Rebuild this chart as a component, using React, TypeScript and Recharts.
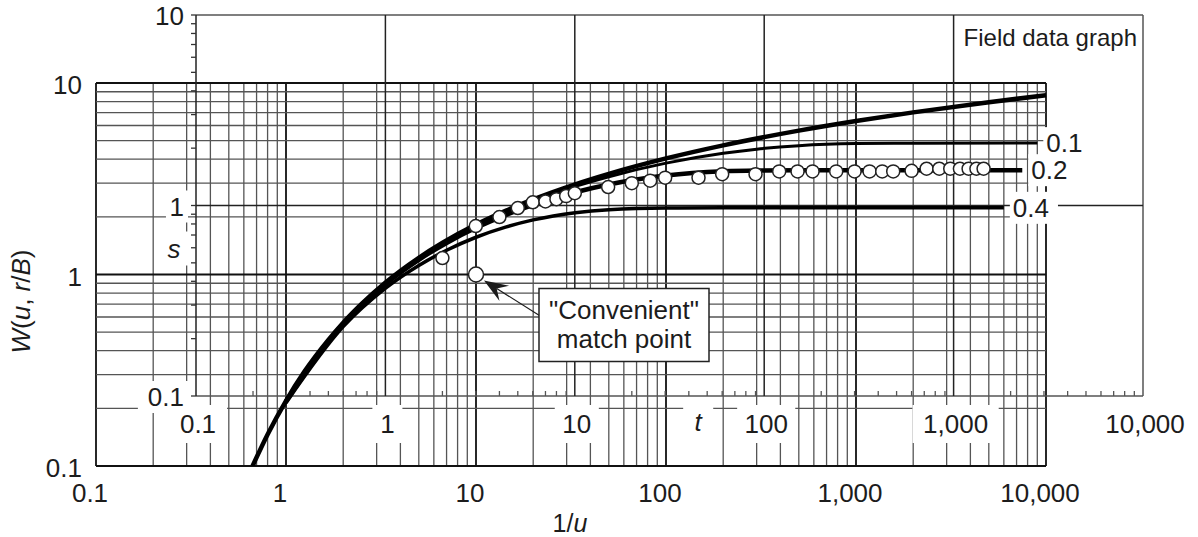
import React from 'react'
import { ComposedChart, XAxis, YAxis, Line, Scatter, ReferenceLine, ReferenceDot } from 'recharts'

// Type curves: W(u, r/B) against 1/u (Theis curve plus leaky r/B curves)
const theisInvU = [0.667, 0.8, 1, 1.25, 1.667, 2, 2.5, 3.33, 5, 6.67, 10, 14.3, 20, 33.3, 50, 100, 200, 500, 1000, 2000, 5000, 10000]
const theisW = [0.1, 0.146, 0.219, 0.311, 0.454, 0.56, 0.702, 0.906, 1.223, 1.465, 1.823, 2.151, 2.468, 2.959, 3.355, 4.038, 4.726, 5.639, 6.332, 7.024, 7.94, 8.633]

const rb01InvU = [1, 2, 3.33, 5, 7, 10, 14.3, 20, 33.3, 50, 100, 200, 300, 500, 1000, 2000, 9000]
const rb01W = [0.219, 0.558, 0.902, 1.216, 1.495, 1.805, 2.123, 2.427, 2.887, 3.242, 3.815, 4.296, 4.514, 4.708, 4.829, 4.853, 4.854]

const rb02InvU = [1, 2, 3.33, 5, 7, 10, 14.3, 20, 33.3, 50, 100, 200, 300, 500, 7500]
const rb02W = [0.218, 0.553, 0.89, 1.194, 1.462, 1.753, 2.043, 2.311, 2.69, 2.952, 3.287, 3.457, 3.492, 3.504, 3.505]

const rb04InvU = [1, 2, 3.33, 5, 7, 10, 14.3, 20, 33.3, 50, 100, 200, 6000]
const rb04W = [0.2135, 0.534, 0.846, 1.115, 1.338, 1.565, 1.767, 1.928, 2.103, 2.181, 2.225, 2.229, 2.229]

const curveLabels = ['0.1', '0.2', '0.4']

// Field data: time t against drawdown s
const fieldT = [2, 3, 4, 5, 6, 7, 8, 9, 10, 15, 20, 25, 30, 45, 60, 90, 120, 150, 180, 240, 300, 360, 420, 480, 600, 720, 840, 960, 1080, 1200, 1320, 1440]
const fieldS = [0.53, 0.78, 0.87, 0.97, 1.04, 1.05, 1.08, 1.12, 1.16, 1.25, 1.31, 1.35, 1.4, 1.4, 1.46, 1.46, 1.51, 1.51, 1.51, 1.51, 1.51, 1.51, 1.51, 1.51, 1.52, 1.56, 1.56, 1.56, 1.56, 1.56, 1.56, 1.56]

// match point on the type-curve sheet
const matchInvU = 10
const matchW = 1

const xTicks = [0.1, 1, 10, 100, 1000, 10000]
const xTickLabels = ['0.1', '1', '10', '100', '1,000', '10,000']
const yTicks = [0.1, 1, 10]
const yTickLabels = ['0.1', '1', '10']

// pixel frames of the two sheets inside the 1198 x 537 chart
const TYPE_BOX = { left: 96, right: 1046, top: 83, bottom: 466 }
const FIELD_BOX = { left: 196, right: 1143, top: 15, bottom: 396 }
const PLOT = { left: 96, right: 1143, top: 15, bottom: 466 }

const FONT = '"Liberation Sans", Arial, Helvetica, sans-serif'
const INK = '#1c1c1c'
const TICK_SIZE = 26

// log domain that puts lo at pixel pLo and hi at pixel pHi, read back at pixels aLo / aHi
function stretch(lo: number, hi: number, pLo: number, pHi: number, aLo: number, aHi: number): [number, number] {
  const k = (Math.log10(hi) - Math.log10(lo)) / (pHi - pLo)
  return [10 ** (Math.log10(lo) + (aLo - pLo) * k), 10 ** (Math.log10(lo) + (aHi - pLo) * k)]
}

const typeXDomain = stretch(0.1, 10000, TYPE_BOX.left, TYPE_BOX.right, PLOT.left, PLOT.right)
const typeYDomain = stretch(0.1, 10, TYPE_BOX.bottom, TYPE_BOX.top, PLOT.bottom, PLOT.top)
const fieldXDomain = stretch(0.1, 10000, FIELD_BOX.left, FIELD_BOX.right, PLOT.left, PLOT.right)
const fieldYDomain = stretch(0.1, 10, FIELD_BOX.bottom, FIELD_BOX.top, PLOT.bottom, PLOT.top)

// 1..9 steps in every decade between from and to
function decadeSteps(from: number, to: number) {
  const out: number[] = []
  for (let d = from; d < to * 0.999; d *= 10) {
    for (let m = 1; m < 10; m++) out.push(Number((d * m).toPrecision(3)))
  }
  out.push(to)
  return out
}
const isDecade = (v: number) => Math.abs(Math.log10(v) - Math.round(Math.log10(v))) < 1e-6

const zip = (xs: number[], ys: number[]) => xs.map((x, i) => ({ x, y: ys[i] }))

const theis = zip(theisInvU, theisW)
const rbCurves = [zip(rb01InvU, rb01W), zip(rb02InvU, rb02W), zip(rb04InvU, rb04W)]
const rbWidths = [3, 4.5, 3.5]
const field = zip(fieldT, fieldS)

const typeGridX = decadeSteps(0.1, 10000)
const typeGridY = decadeSteps(0.1, 10)
const fieldTicksX = decadeSteps(0.1, 10000).filter((v) => !isDecade(v))
const fieldTicksY = decadeSteps(0.1, 10)

type TextOpts = {
  dx?: number
  dy?: number
  anchor?: 'start' | 'middle' | 'end'
  size?: number
  italic?: boolean
  box?: boolean
  padX?: number
  padY?: number
}

// text drawn at a reference point, optionally on a white patch that hides the grid behind it
function textAt(text: string, o: TextOpts = {}) {
  const { dx = 0, dy = 0, anchor = 'middle', size = TICK_SIZE, italic = false, box = false, padX = 6, padY = 5 } = o
  return (p: any) => {
    const x = p.cx + dx
    const y = p.cy + dy
    const w = text.length * size * 0.54
    const left = anchor === 'middle' ? x - w / 2 : anchor === 'end' ? x - w : x
    return (
      <g>
        {box && (
          <rect x={left - padX} y={y - size / 2 - padY} width={w + padX * 2} height={size + padY * 2} fill="#fff" />
        )}
        <text
          x={x}
          y={y}
          textAnchor={anchor}
          dominantBaseline="central"
          fontSize={size}
          fontStyle={italic ? 'italic' : 'normal'}
          fontFamily={FONT}
          fill={INK}
        >
          {text}
        </text>
      </g>
    )
  }
}

const tickLeft = (p: any) => <line x1={p.cx - 5} y1={p.cy} x2={p.cx} y2={p.cy} stroke="#333" strokeWidth={1.3} />
const tickUp = (p: any) => <line x1={p.cx} y1={p.cy} x2={p.cx} y2={p.cy - 5} stroke="#555" strokeWidth={1.3} />

const circle = (p: any) => <circle cx={p.cx} cy={p.cy} r={6.5} fill="#fff" stroke="#222" strokeWidth={1.5} />

// match point with its arrow and callout box
const matchMarker = (p: any) => {
  const { cx, cy } = p
  const tail = { x: cx + 65, y: cy + 42 }
  const tip = { x: cx + 8, y: cy + 6 }
  const len = Math.hypot(tail.x - tip.x, tail.y - tip.y)
  const ux = (tail.x - tip.x) / len
  const uy = (tail.y - tip.y) / len
  const nx = -uy
  const ny = ux
  const head = [
    [tip.x, tip.y],
    [tip.x + ux * 24 + nx * 9, tip.y + uy * 24 + ny * 9],
    [tip.x + ux * 15, tip.y + uy * 15],
    [tip.x + ux * 24 - nx * 9, tip.y + uy * 24 - ny * 9],
  ]
    .map((q) => q.join(','))
    .join(' ')
  const bx = cx + 63
  const by = cy + 14
  return (
    <g>
      <line x1={tail.x} y1={tail.y} x2={tip.x + ux * 15} y2={tip.y + uy * 15} stroke={INK} strokeWidth={1.2} />
      <polygon points={head} fill={INK} />
      <circle cx={cx} cy={cy} r={7.5} fill="#fff" stroke="#222" strokeWidth={1.5} />
      <rect x={bx} y={by} width={170} height={73} fill="#fff" stroke="#222" strokeWidth={1.5} />
      <text x={bx + 85} y={by + 21} textAnchor="middle" dominantBaseline="central" fontSize={26} fontFamily={FONT} fill={INK}>
        "Convenient"
      </text>
      <text x={bx + 85} y={by + 50} textAnchor="middle" dominantBaseline="central" fontSize={26} fontFamily={FONT} fill={INK}>
        match point
      </text>
    </g>
  )
}

const wAxisTitle = (p: any) => {
  const x = p.cx - 75
  const y = p.cy + 27
  return (
    <text
      x={x}
      y={y}
      transform={`rotate(-90 ${x} ${y})`}
      textAnchor="middle"
      dominantBaseline="central"
      fontSize={26}
      fontFamily={FONT}
      fill={INK}
    >
      <tspan fontStyle="italic">W</tspan>(<tspan fontStyle="italic">u</tspan>, <tspan fontStyle="italic">r</tspan>/
      <tspan fontStyle="italic">B</tspan>)
    </text>
  )
}

const invUTitle = (p: any) => (
  <text x={p.cx + 474} y={p.cy + 57} textAnchor="middle" dominantBaseline="central" fontSize={25} fontFamily={FONT} fill={INK}>
    1/<tspan fontStyle="italic">u</tspan>
  </text>
)

const T = { xAxisId: 'tx', yAxisId: 'ty' }
const F = { xAxisId: 'fx', yAxisId: 'fy' }

export default function App() {
  const minor = { stroke: '#555', strokeWidth: 1.3 }
  const major = { stroke: '#111', strokeWidth: 1.8 }
  const fieldLine = { stroke: '#222', strokeWidth: 1.5 }
  const fieldEdge = { stroke: '#555', strokeWidth: 1.5 }

  return (
    <div style={{ position: 'absolute', left: 0, top: 0, width: 1198, height: 537, background: '#fff' }}>
      <ComposedChart
        width={1198}
        height={537}
        margin={{ top: PLOT.top, left: PLOT.left, right: 1198 - PLOT.right, bottom: 537 - PLOT.bottom }}
      >
        <XAxis xAxisId="tx" dataKey="x" type="number" scale="log" domain={typeXDomain} allowDataOverflow hide />
        <YAxis yAxisId="ty" dataKey="y" type="number" scale="log" domain={typeYDomain} allowDataOverflow hide />
        <XAxis xAxisId="fx" dataKey="x" type="number" scale="log" domain={fieldXDomain} allowDataOverflow hide />
        <YAxis yAxisId="fy" dataKey="y" type="number" scale="log" domain={fieldYDomain} allowDataOverflow hide />

        {/* type-curve sheet grid */}
        {typeGridX.map((v) => (
          <ReferenceLine
            key={`tgx${v}`}
            {...T}
            segment={[{ x: v, y: 0.1 }, { x: v, y: 10 }]}
            {...(isDecade(v) ? major : minor)}
            ifOverflow="visible"
            zIndex={1}
          />
        ))}
        {typeGridY.map((v) => (
          <ReferenceLine
            key={`tgy${v}`}
            {...T}
            segment={[{ x: 0.1, y: v }, { x: 10000, y: v }]}
            {...(isDecade(v) ? major : minor)}
            ifOverflow="visible"
            zIndex={1}
          />
        ))}

        {/* field-data sheet: frame, decade lines and minor ticks */}
        <ReferenceLine {...F} segment={[{ x: 0.1, y: 10 }, { x: 10000, y: 10 }]} {...fieldEdge} ifOverflow="visible" zIndex={2} />
        <ReferenceLine {...F} segment={[{ x: 0.1, y: 0.1 }, { x: 10000, y: 0.1 }]} {...fieldEdge} ifOverflow="visible" zIndex={2} />
        <ReferenceLine {...F} segment={[{ x: 0.1, y: 0.1 }, { x: 0.1, y: 10 }]} {...fieldLine} ifOverflow="visible" zIndex={2} />
        <ReferenceLine {...F} segment={[{ x: 10000, y: 0.1 }, { x: 10000, y: 10 }]} {...fieldEdge} ifOverflow="visible" zIndex={2} />
        {[1, 10, 100, 1000].map((v) => (
          <ReferenceLine key={`fgx${v}`} {...F} segment={[{ x: v, y: 0.1 }, { x: v, y: 10 }]} {...fieldLine} ifOverflow="visible" zIndex={2} />
        ))}
        <ReferenceLine {...F} segment={[{ x: 0.1, y: 1 }, { x: 10000, y: 1 }]} {...fieldLine} ifOverflow="visible" zIndex={2} />
        {fieldTicksX.map((v) => (
          <ReferenceDot key={`ftx${v}`} {...F} x={v} y={0.1} r={0} shape={tickUp} ifOverflow="visible" zIndex={2} />
        ))}
        {fieldTicksY.map((v) => (
          <ReferenceDot key={`fty${v}`} {...F} x={0.1} y={v} r={0} shape={tickLeft} ifOverflow="visible" zIndex={2} />
        ))}

        {/* field-sheet tick labels sit on white patches */}
        {xTicks.map((v, i) => (
          <ReferenceDot
            key={`fxl${v}`}
            {...F}
            x={v}
            y={0.1}
            r={0}
            shape={textAt(xTickLabels[i], { dx: 2, dy: 28, box: true, padX: 8, padY: 6 })}
            ifOverflow="visible"
            zIndex={3}
          />
        ))}
        {yTicks.map((v, i) => (
          <ReferenceDot
            key={`fyl${v}`}
            {...F}
            x={0.1}
            y={v}
            r={0}
            shape={textAt(yTickLabels[i], { dx: -12, dy: 1, anchor: 'end', box: true, padX: 4, padY: 3 })}
            ifOverflow="visible"
            zIndex={3}
          />
        ))}
        <ReferenceDot {...F} x={0.1} y={1} r={0} shape={textAt('s', { dx: -22, dy: 43, italic: true, box: true, padX: 7, padY: 4 })} ifOverflow="visible" zIndex={3} />
        <ReferenceDot {...F} x={100} y={0.1} r={0} shape={textAt('t', { dx: -66, dy: 26, italic: true, box: true, padX: 8, padY: 6 })} ifOverflow="visible" zIndex={3} />
        <ReferenceDot {...F} x={10000} y={10} r={0} shape={textAt('Field data graph', { dx: -6, dy: 22, anchor: 'end', size: 24 })} ifOverflow="visible" zIndex={3} />

        {/* type-sheet tick labels and titles */}
        {xTicks.map((v, i) => (
          <ReferenceDot key={`txl${v}`} {...T} x={v} y={0.1} r={0} shape={textAt(xTickLabels[i], { dx: -6, dy: 27 })} ifOverflow="visible" zIndex={3} />
        ))}
        {yTicks.map((v, i) => (
          <ReferenceDot key={`tyl${v}`} {...T} x={0.1} y={v} r={0} shape={textAt(yTickLabels[i], { dx: -14, dy: 2, anchor: 'end' })} ifOverflow="visible" zIndex={3} />
        ))}
        <ReferenceDot {...T} x={0.1} y={1} r={0} shape={wAxisTitle} ifOverflow="visible" zIndex={3} />
        <ReferenceDot {...T} x={0.1} y={0.1} r={0} shape={invUTitle} ifOverflow="visible" zIndex={3} />

        {/* type curves */}
        <Line {...T} data={theis} dataKey="y" type="monotone" stroke="#000" strokeWidth={4.5} dot={false} activeDot={false} isAnimationActive={false} zIndex={4} />
        {rbCurves.map((d, i) => (
          <Line
            key={`rb${i}`}
            {...T}
            data={d}
            dataKey="y"
            type="monotone"
            stroke="#000"
            strokeWidth={rbWidths[i]}
            dot={false}
            activeDot={false}
            isAnimationActive={false}
            zIndex={4}
          />
        ))}
        {rbCurves.map((d, i) => (
          <ReferenceDot
            key={`rbl${i}`}
            {...T}
            x={d[d.length - 1].x}
            y={d[d.length - 1].y}
            r={0}
            shape={textAt(curveLabels[i], { dx: 9, anchor: 'start', box: true, padX: 3, padY: 3 })}
            ifOverflow="visible"
            zIndex={5}
          />
        ))}

        {/* field observations */}
        <Scatter {...F} data={field} shape={circle} isAnimationActive={false} zIndex={6} />
        <ReferenceDot {...T} x={matchInvU} y={matchW} r={0} shape={matchMarker} ifOverflow="visible" zIndex={7} />
      </ComposedChart>
    </div>
  )
}
